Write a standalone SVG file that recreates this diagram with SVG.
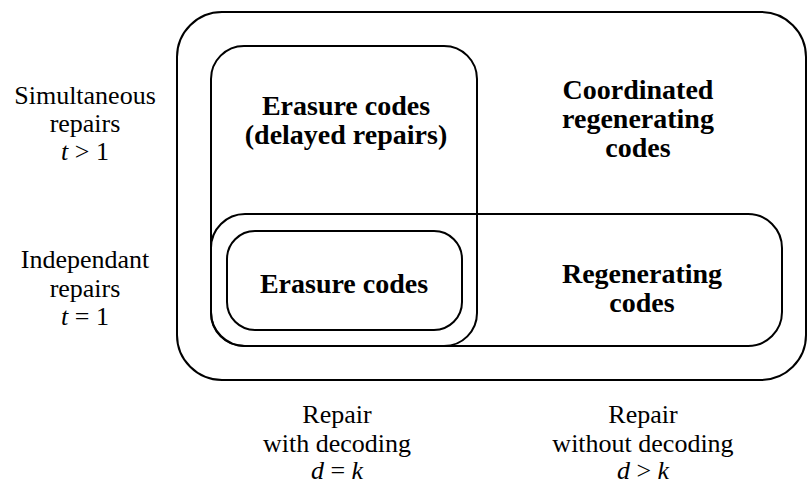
<svg xmlns="http://www.w3.org/2000/svg" width="808" height="484" viewBox="0 0 808 484">
<style>
.box{fill:none;stroke:#000;stroke-width:2}
.nodetxt{font-family:Liberation Serif,Times New Roman,serif;font-weight:bold;font-size:28px;text-anchor:middle;fill:#000}
.axislbl{font-family:Liberation Serif,Times New Roman,serif;font-size:26px;text-anchor:middle;fill:#000}
.mathvar{font-style:italic}
</style>
<rect width="808" height="484" fill="#fff"/>
<g id="coordinated">
<rect class="box" x="177" y="12" width="629" height="368" rx="45" ry="45"/>
<text class="nodetxt" x="638" y="99">Coordinated</text>
<text class="nodetxt" x="638" y="128">regenerating</text>
<text class="nodetxt" x="638" y="157">codes</text>
</g>
<g id="delayed">
<rect class="box" x="211" y="46" width="266" height="300" rx="33" ry="33"/>
<text class="nodetxt" x="346" y="115">Erasure codes</text>
<text class="nodetxt" x="346" y="144">(delayed repairs)</text>
</g>
<g id="regenerating">
<rect class="box" x="211" y="214" width="571" height="132" rx="34" ry="34"/>
<text class="nodetxt" x="642" y="283">Regenerating</text>
<text class="nodetxt" x="642" y="312">codes</text>
</g>
<g id="erasure">
<rect class="box" x="227" y="231" width="235" height="99" rx="28" ry="28"/>
<text class="nodetxt" x="344" y="293">Erasure codes</text>
</g>
<g id="labels">
<text class="axislbl" x="85" y="104">Simultaneous</text>
<text class="axislbl" x="85" y="132">repairs</text>
<text class="axislbl" x="85" y="160"><tspan class="mathvar">t</tspan> &gt; 1</text>
<text class="axislbl" x="85" y="268">Independant</text>
<text class="axislbl" x="85" y="297">repairs</text>
<text class="axislbl" x="85" y="325"><tspan class="mathvar">t</tspan> = 1</text>
<text class="axislbl" x="337" y="423">Repair</text>
<text class="axislbl" x="337" y="452">with decoding</text>
<text class="axislbl" x="337" y="479"><tspan class="mathvar">d</tspan> = <tspan class="mathvar">k</tspan></text>
<text class="axislbl" x="643" y="423">Repair</text>
<text class="axislbl" x="643" y="452">without decoding</text>
<text class="axislbl" x="643" y="479"><tspan class="mathvar">d</tspan> &gt; <tspan class="mathvar">k</tspan></text>
</g>
<g id="connectors"></g>
</svg>
